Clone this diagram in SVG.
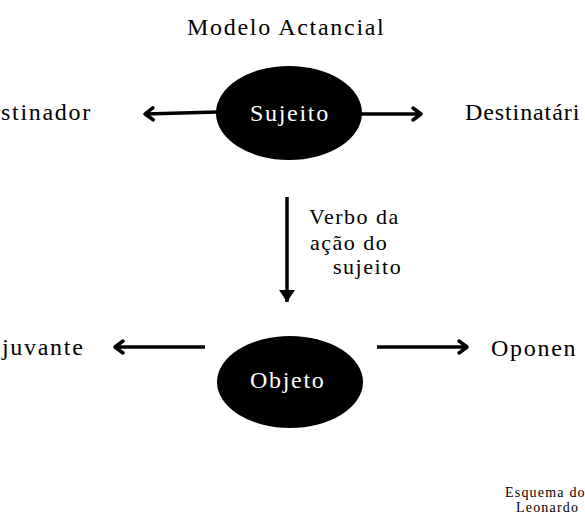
<svg xmlns="http://www.w3.org/2000/svg" width="585" height="525" viewBox="0 0 585 525">
  <style>
    .lbl { font-family: "Liberation Serif", "Times New Roman", serif; font-size: 24px; letter-spacing: 1.7px; fill: #000; }
    .in { fill: #fff; }
    .verb { font-family: "Liberation Serif", "Times New Roman", serif; font-size: 22px; letter-spacing: 1.5px; fill: #000; }
    .small { font-family: "Liberation Serif", "Times New Roman", serif; font-size: 14px; letter-spacing: 1.2px; fill: #000; }
    .node { fill: #000; }
    .conn { stroke: #000; stroke-width: 3.5; fill: none; }
  </style>
  <defs>
    <marker id="chev" markerUnits="userSpaceOnUse" viewBox="-14 -10 18 20" markerWidth="18" markerHeight="20" refX="0" refY="0" orient="auto" overflow="visible">
      <path d="M-8,-6 L0,0 L-8,6" fill="none" stroke="#000" stroke-width="3.5" stroke-linejoin="round" stroke-linecap="round"/>
    </marker>
    <marker id="tri" markerUnits="userSpaceOnUse" viewBox="-14 -10 18 20" markerWidth="18" markerHeight="20" refX="0" refY="0" orient="auto" overflow="visible">
      <path d="M-12,-8 L0,0 L-12,8 Z" fill="#000"/>
    </marker>
  </defs>
  <rect width="585" height="525" fill="#fff"/>

  <text id="title" class="lbl" x="187" y="35">Modelo Actancial</text>

  <g id="connectors">
    <line class="conn" x1="218" y1="112" x2="145" y2="114" marker-end="url(#chev)"/>
    <line class="conn" x1="360" y1="114" x2="421" y2="114" marker-end="url(#chev)"/>
    <line class="conn" x1="287" y1="197" x2="287" y2="302" marker-end="url(#tri)"/>
    <line class="conn" x1="205" y1="347" x2="115" y2="347" marker-end="url(#chev)"/>
    <line class="conn" x1="377" y1="347" x2="467" y2="347" marker-end="url(#chev)"/>
  </g>

  <g id="sujeito">
    <ellipse class="node" cx="289" cy="113" rx="73" ry="47"/>
    <text class="lbl in" x="250" y="121">Sujeito</text>
  </g>
  <g id="objeto">
    <ellipse class="node" cx="290" cy="382" rx="73" ry="46"/>
    <text class="lbl in" x="250" y="388">Objeto</text>
  </g>
  <g id="destinador">
    <text class="lbl" x="1" y="120">stinador</text>
  </g>
  <g id="destinatario">
    <text class="lbl" x="465" y="120" textLength="116">Destinatári</text>
  </g>
  <g id="adjuvante">
    <text class="lbl" x="2" y="355">juvante</text>
  </g>
  <g id="oponente">
    <text class="lbl" x="491" y="356">Oponen</text>
  </g>
  <g id="verbo">
    <text class="verb" x="309" y="224">Verbo da</text>
    <text class="verb" x="310" y="250">ação do</text>
    <text class="verb" x="333" y="274">sujeito</text>
  </g>
  <g id="credit">
    <text class="small" x="505" y="497">Esquema do</text>
    <text class="small" x="516" y="512">Leonardo</text>
  </g>
</svg>
